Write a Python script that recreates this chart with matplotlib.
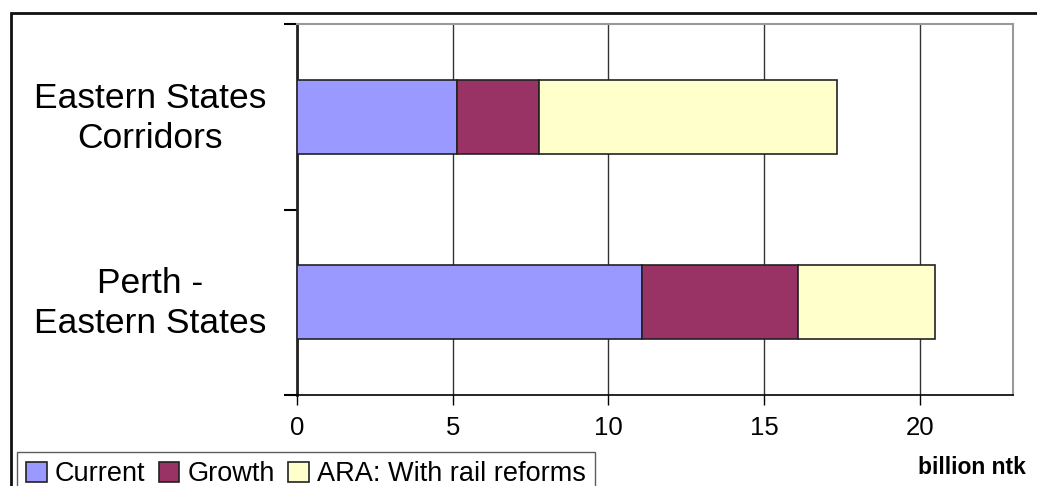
import matplotlib
matplotlib.use("Agg")
import matplotlib.pyplot as plt
from matplotlib.patches import Rectangle
from matplotlib.transforms import ScaledTranslation

plt.rcParams['font.family'] = ['Liberation Sans', 'DejaVu Sans']

categories = ["Perth -\nEastern States", "Eastern States\nCorridors"]
series_names = ["Current", "Growth", "ARA: With rail reforms"]
current = [11.09, 5.13]
growth = [5.01, 2.65]
ara = [4.39, 9.57]
colors = ["#9999FF", "#993366", "#FFFFCC"]
x_ticks = [0, 5, 10, 15, 20]

W, H = 1037, 486
fig = plt.figure(figsize=(W / 100, H / 100), dpi=100)
ax = fig.add_axes([297 / W, 1 - 395 / H, (1013 - 297) / W, (395 - 24.5) / H])

ypos = list(range(len(categories)))
left = [0] * len(categories)
for vals, name, col in zip([current, growth, ara], series_names, colors):
    ax.barh(ypos, vals, left=left, height=0.4, color=col, edgecolor="#222222",
            linewidth=1.2, label=name, zorder=3)
    left = [l + v for l, v in zip(left, vals)]

ax.set_xlim(0, 23)
ax.set_ylim(-0.5, len(categories) - 0.5)

ax.set_xticks(x_ticks)
ax.set_xticklabels([str(t) for t in x_ticks], fontsize=18.5)
ax.tick_params(axis='x', direction='out', length=7, width=1, pad=8, color='black')
ax.xaxis.grid(True, color='#333333', linewidth=1, zorder=0)

ax.set_yticks([i - 0.5 for i in range(len(categories) + 1)])
ax.set_yticklabels([])
ax.tick_params(axis='y', which='major', direction='out', length=9.5, width=1.5, color='black')
ax.set_yticks(ypos, minor=True)
ax.set_yticklabels(categories, minor=True, fontsize=25.5)
ax.tick_params(axis='y', which='minor', length=0, pad=22)
shift = ScaledTranslation(0, 4 / 72, fig.dpi_scale_trans)
for lab in ax.get_yticklabels(minor=True):
    lab.set_multialignment('center')
    lab.set_linespacing(1.25)
    lab.set_transform(lab.get_transform() + shift)

ax.spines['left'].set_color('#222222')
ax.spines['left'].set_linewidth(2)
ax.spines['bottom'].set_color('black')
ax.spines['bottom'].set_linewidth(1.2)
for s in ['top', 'right']:
    ax.spines[s].set_color('#999999')
    ax.spines[s].set_linewidth(1.5)

# outer chart frame (extends beyond the image on right and bottom)
fig.add_artist(Rectangle((11 / W, -0.2), 1.2, 1.2 - 13 / H, transform=fig.transFigure,
                         fill=False, edgecolor='#111111', linewidth=2))

leg = fig.legend(loc='upper left', bbox_to_anchor=(17 / W, 1 - 452 / H), ncol=3,
                 fontsize=19.5, frameon=True, fancybox=False, edgecolor='#333333',
                 handlelength=0.75, handleheight=0.75, handletextpad=0.3,
                 columnspacing=0.5, borderpad=0.35, borderaxespad=0)
leg.get_frame().set_linewidth(1)

fig.text(1026 / W, 1 - 467 / H, "billion ntk", fontsize=16.5, fontweight='bold',
         ha='right', va='center')

fig.savefig("out.png", dpi=100)
